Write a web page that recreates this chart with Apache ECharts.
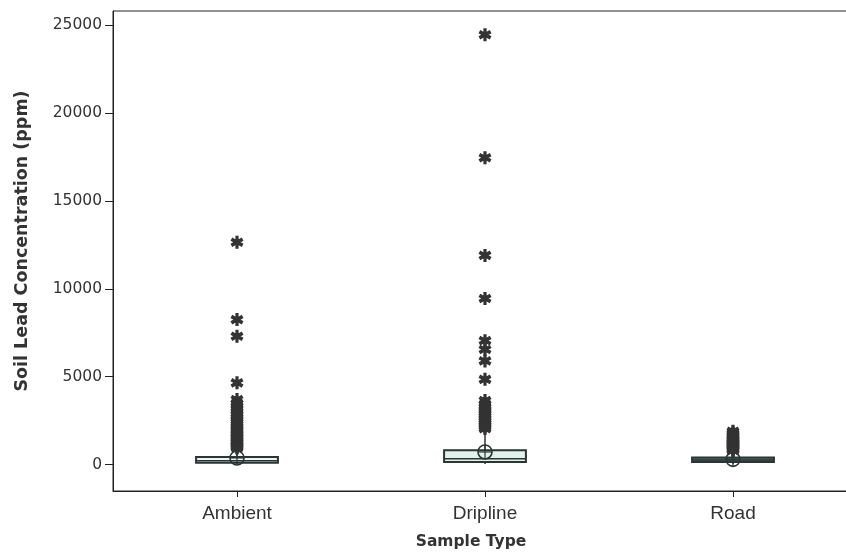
<!DOCTYPE html>
<html>
<head>
<meta charset="utf-8">
<script src="https://cdn.jsdelivr.net/npm/echarts@6/dist/echarts.min.js"></script>
<style>
html,body{margin:0;padding:0;background:#fff;}
#chart{width:846px;height:552px;}
</style>
</head>
<body>
<div id="chart"></div>
<script>
// ---- data ----
const categories = ['Ambient', 'Dripline', 'Road'];
const boxMin = [20, 30, 40];
const boxQ1 = [110, 150, 150];
const boxMedian = [220, 330, 260];
const boxQ3 = [430, 820, 400];
const boxMax = [900, 1950, 780];
const means = [380, 720, 300];
const ambientOutliers = [12650, 8250, 7300, 4650, 3700, 3500, 3350, 3200, 3050, 2900, 2800, 2700, 2600, 2500, 2400, 2300, 2200, 2100, 2000, 1950, 1850, 1750, 1700, 1600, 1550, 1450, 1400, 1300, 1250, 1150, 1100, 1050, 1000, 950];
const driplineOutliers = [24450, 17450, 11900, 9450, 7050, 6550, 5900, 4850, 3650, 3450, 3300, 3150, 3050, 2950, 2850, 2750, 2650, 2550, 2450, 2350, 2250, 2150, 2050];
const roadOutliers = [1900, 1800, 1750, 1650, 1600, 1500, 1450, 1400, 1350, 1300, 1250, 1200, 1150, 1100, 1050, 1000, 950, 900, 850, 800];
const yTicks = [0, 5000, 10000, 15000, 20000, 25000];

// ---- build ----
const boxData = categories.map((c, i) => [i, boxMin[i], boxQ1[i], boxMedian[i], boxQ3[i], boxMax[i], means[i]]);
const outlierData = [];
[ambientOutliers, driplineOutliers, roadOutliers].forEach((arr, i) => arr.forEach(v => outlierData.push([i, v])));

const boxFill = ['#eef2f0', '#e2f1e9', '#5d726c'];
const stroke = '#2a3633';

const asterisk = 'path://M3.8,0L6.2,0L6.2,10L3.8,10Z M1.4,1.3L9.9,6.2L8.6,8.7L0.1,3.8Z M9.9,3.8L1.4,8.7L0.1,6.2L8.6,1.3Z';

function renderBox(params, api) {
  const i = api.value(0);
  const x = api.coord([i, 0])[0];
  const bw = api.size([1, 0])[0] * 0.33;
  const y = k => api.coord([i, api.value(k)])[1];
  const yMin = y(1), yQ1 = y(2), yMed = y(3), yQ3 = y(4), yMax = y(5), yMean = y(6);
  return {
    type: 'group',
    children: [
      {type: 'line', shape: {x1: x, y1: yMin, x2: x, y2: yQ1}, style: {stroke: stroke, lineWidth: 1.5}},
      {type: 'line', shape: {x1: x, y1: yQ3, x2: x, y2: yMax}, style: {stroke: stroke, lineWidth: 1.5}},
      {type: 'rect', shape: {x: x - bw / 2, y: yQ3, width: bw, height: yQ1 - yQ3}, style: {fill: boxFill[i], stroke: stroke, lineWidth: 2}},
      {type: 'line', shape: {x1: x - bw / 2, y1: yMed, x2: x + bw / 2, y2: yMed}, style: {stroke: stroke, lineWidth: 1.5}},
      {type: 'circle', shape: {cx: x, cy: yMean, r: 7}, style: {fill: 'none', stroke: stroke, lineWidth: 1.6}},
      {type: 'line', shape: {x1: x - 7, y1: yMean, x2: x + 7, y2: yMean}, style: {stroke: stroke, lineWidth: 1.2}},
      {type: 'line', shape: {x1: x, y1: yMean - 7, x2: x, y2: yMean + 7}, style: {stroke: stroke, lineWidth: 1.2}}
    ]
  };
}

const chart = echarts.init(document.getElementById('chart'), null, {renderer: 'canvas'});
chart.setOption({
  animation: false,
  backgroundColor: '#ffffff',
  grid: {left: 113, top: 11, width: 744, height: 480, show: true, borderColor: '#222', borderWidth: 1, backgroundColor: 'transparent', containLabel: false, outerBoundsMode: 'none'},
  xAxis: {
    type: 'category',
    data: categories,
    boundaryGap: true,
    axisLine: {show: true, onZero: false, lineStyle: {color: '#222', width: 1}},
    axisTick: {show: true, alignWithLabel: true, length: 6, lineStyle: {color: '#222'}},
    axisLabel: {fontFamily: 'Liberation Sans', fontSize: 19, color: '#333', margin: 13},
    splitLine: {show: false},
    name: 'Sample Type',
    nameLocation: 'middle',
    nameGap: 43,
    nameTextStyle: {fontFamily: 'DejaVu Sans', fontWeight: 'bold', fontSize: 15.5, color: '#333', padding: [0, 28, 0, 0]}
  },
  yAxis: {
    type: 'value',
    min: -1500,
    max: 25800,
    axisLine: {show: true, lineStyle: {color: '#222', width: 1}},
    axisTick: {show: true, length: 8, lineStyle: {color: '#222'}, customValues: yTicks},
    axisLabel: {fontFamily: 'DejaVu Sans', fontSize: 15.5, color: '#333', margin: 11, customValues: yTicks, formatter: v => String(v)},
    splitLine: {show: false},
    name: 'Soil Lead Concentration (ppm)',
    nameLocation: 'middle',
    nameGap: 82,
    nameTextStyle: {fontFamily: 'DejaVu Sans', fontWeight: 'bold', fontSize: 17.5, color: '#333', padding: [0, 0, 0, 20]}
  },
  series: [
    {
      type: 'custom',
      renderItem: renderBox,
      data: boxData,
      encode: {x: 0, y: [1, 2, 3, 4, 5, 6]},
      z: 3
    },
    {
      type: 'scatter',
      data: outlierData,
      symbol: asterisk,
      symbolSize: 13,
      itemStyle: {color: '#333', opacity: 1},
      z: 4
    }
  ]
});
</script>
</body>
</html>
